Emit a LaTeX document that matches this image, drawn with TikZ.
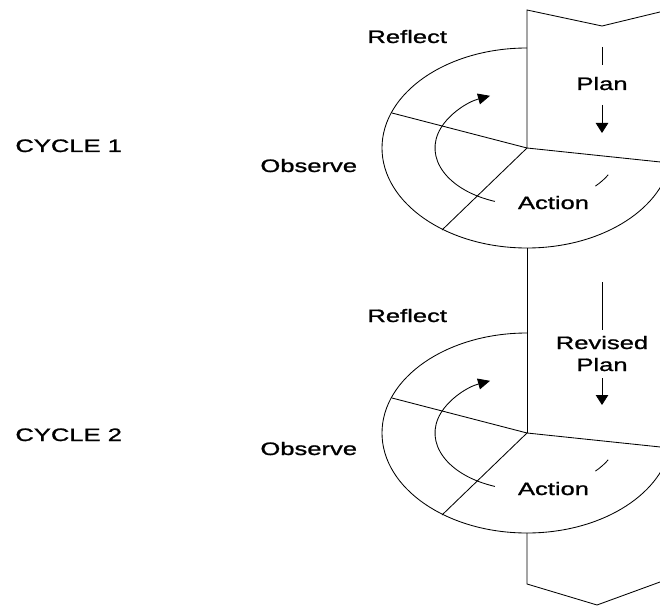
\documentclass[tikz,border=0pt]{standalone}
\usepackage{fontspec}
\setmainfont[FakeStretch=1.42,FakeBold=1.2]{Liberation Sans}
\usetikzlibrary{arrows.meta}
\begin{document}
\begin{tikzpicture}[x=1pt,y=1pt, line width=0.85pt,
  lbl/.style={inner sep=0pt, font=\fontsize{18}{21}\selectfont},
  lblw/.style={lbl, anchor=base west},
  lblc/.style={lbl, anchor=base},
  tri/.style={-{Triangle[length=10pt,width=12.5pt]}},
  tricurve/.style={-{Triangle[length=12pt,width=11pt]}},
]
\useasboundingbox (0,0) rectangle (660,606);
\clip (0,0) rectangle (660,606);
\coordinate (c1) at (527,458);
\coordinate (c2) at (527,173);

\foreach \c in {c1,c2} {
  \draw ([shift={(0,100)}]\c) arc[start angle=90, end angle=351.3, x radius=145, y radius=100];
  \draw (\c) -- ++(-135,35);
  \draw (\c) -- ++(-85,-82);
  \draw (\c) -- ++(143,-15);
  \draw[tricurve] ([shift={(249.6:92 and 57)}]\c) arc[start angle=249.6, end angle=113.7, x radius=92, y radius=57];
  \draw ([shift={(-28:92 and 57)}]\c) arc[start angle=-28, end angle=-42, x radius=92, y radius=57];
}

% banner edges
\coordinate (t1) at (527,596);
\coordinate (n1) at (602,580);
\coordinate (r1) at (700,603.7);
\draw (r1) -- (n1) -- (t1) -- (c1);
\draw ([shift={(0,-100)}]c1) -- (c2);
\coordinate (b1) at (527,22);
\coordinate (n2) at (597,1);
\coordinate (r2) at (700,38.6);
\draw ([shift={(0,-100)}]c2) -- (b1) -- (n2) -- (r2);

% plan arrows
\coordinate (pa1) at (602,559);
\coordinate (pa2) at (602,541);
\coordinate (pb1) at (602,501);
\coordinate (pb2) at (602,473);
\draw (pa1) -- (pa2);
\draw[tri] (pb1) -- (pb2);
\coordinate (qa1) at (602,324);
\coordinate (qa2) at (602,276);
\coordinate (qb1) at (602,228);
\coordinate (qb2) at (602,201);
\draw (qa1) -- (qa2);
\draw[tri] (qb1) -- (qb2);

% labels
\node[lblw] (cyc1) at (15,454) {CYCLE 1};
\node[lblw] (cyc2) at (15,165) {CYCLE 2};
\node[lblw] (ref1) at (367,563) {Reflect};
\node[lblw] (ref2) at (367,284) {Reflect};
\node[lblw] (obs1) at (260,434) {Observe};
\node[lblw] (obs2) at (260,151) {Observe};
\node[lblc] (plan1) at (602,516) {Plan};
\node[lblc] (rev2) at (602,257) {Revised};
\node[lblc] (plan2) at (602,235) {Plan};
\node[lblc] (act1) at (553.5,397) {Action};
\node[lblc] (act2) at (553.5,111) {Action};
\end{tikzpicture}
\end{document}
